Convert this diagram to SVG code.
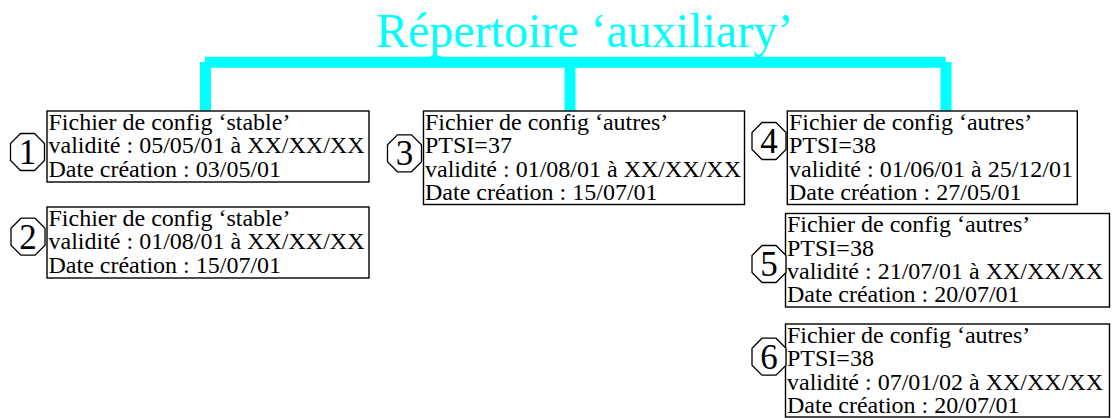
<svg xmlns="http://www.w3.org/2000/svg" width="1112" height="418" viewBox="0 0 1112 418">
  <style>
    .title { font-family: "Liberation Serif", "Times New Roman", serif; font-size: 48px; fill: #00FFFF; }
    .txt { font-family: "Liberation Serif", "Times New Roman", serif; font-size: 24px; fill: #000000; }
    .num { font-family: "Liberation Serif", "Times New Roman", serif; font-size: 35px; fill: #000000; text-anchor: middle; }
    .box { fill: #FFFFFF; stroke: #000000; stroke-width: 1.4; }
    .oct { fill: #FFFFFF; stroke: #000000; stroke-width: 1.3; }
    .bar { stroke: #00FFFF; stroke-width: 11; fill: none; stroke-linecap: butt; }
  </style>
  <defs>
    <polygon id="octagon" class="oct" points="-7,-18.5 7,-18.5 17,-8.5 17,8.5 7,18.5 -7,18.5 -17,8.5 -17,-8.5"/>
  </defs>
  <rect x="0" y="0" width="1112" height="418" fill="#FFFFFF"/>

  <text id="title" class="title" x="376" y="46.5">Répertoire ‘auxiliary’</text>

  <g id="connectors">
    <line class="bar" x1="205" y1="62.2" x2="945.5" y2="62.2"/>
    <line class="bar" x1="205.5" y1="62" x2="205.5" y2="111"/>
    <line class="bar" x1="570" y1="62" x2="570" y2="111"/>
    <line class="bar" x1="946" y1="62" x2="946" y2="111"/>
  </g>

  <g id="node1">
    <rect class="box" x="47" y="111" width="322" height="71"/>
    <text class="txt" x="48.5" y="129.5"><tspan x="48.5" y="129.5">Fichier de config ‘stable’</tspan><tspan x="48.5" y="153.3">validité : 05/05/01 à XX/XX/XX</tspan><tspan x="48.5" y="176.5">Date création : 03/05/01</tspan></text>
    <use href="#octagon" x="27.5" y="152"/>
    <text class="num" x="27.5" y="164">1</text>
  </g>

  <g id="node2">
    <rect class="box" x="47" y="207" width="322" height="71"/>
    <text class="txt" x="48.5" y="225.5"><tspan x="48.5" y="225.5">Fichier de config ‘stable’</tspan><tspan x="48.5" y="249.3">validité : 01/08/01 à XX/XX/XX</tspan><tspan x="48.5" y="272.5">Date création : 15/07/01</tspan></text>
    <use href="#octagon" x="28" y="236.7"/>
    <text class="num" x="28" y="248.7">2</text>
  </g>

  <g id="node3">
    <rect class="box" x="423.5" y="111" width="321" height="93.5"/>
    <text class="txt" x="425" y="129.5"><tspan x="425" y="129.5">Fichier de config ‘autres’</tspan><tspan x="425" y="153.3">PTSI=37</tspan><tspan x="425" y="176.5">validité : 01/08/01 à XX/XX/XX</tspan><tspan x="425" y="199.5">Date création : 15/07/01</tspan></text>
    <use href="#octagon" x="404.5" y="153.3"/>
    <text class="num" x="404.5" y="165.3">3</text>
  </g>

  <g id="node4">
    <rect class="box" x="787.3" y="111" width="290" height="93.5"/>
    <text class="txt" x="789" y="129.5"><tspan x="789" y="129.5">Fichier de config ‘autres’</tspan><tspan x="789" y="153.3">PTSI=38</tspan><tspan x="789" y="176.5">validité : 01/06/01 à 25/12/01</tspan><tspan x="789" y="199.5">Date création : 27/05/01</tspan></text>
    <use href="#octagon" x="769" y="141"/>
    <text class="num" x="769" y="153">4</text>
  </g>

  <g id="node5">
    <rect class="box" x="785.5" y="213.5" width="324" height="93.5"/>
    <text class="txt" x="787" y="232"><tspan x="787" y="232">Fichier de config ‘autres’</tspan><tspan x="787" y="255.8">PTSI=38</tspan><tspan x="787" y="279">validité : 21/07/01 à XX/XX/XX</tspan><tspan x="787" y="302">Date création : 20/07/01</tspan></text>
    <use href="#octagon" x="769" y="264"/>
    <text class="num" x="769" y="276">5</text>
  </g>

  <g id="node6">
    <rect class="box" x="785.5" y="324" width="324" height="93"/>
    <text class="txt" x="787" y="342.5"><tspan x="787" y="342.5">Fichier de config ‘autres’</tspan><tspan x="787" y="366.3">PTSI=38</tspan><tspan x="787" y="389.5">validité : 07/01/02 à XX/XX/XX</tspan><tspan x="787" y="412.5">Date création : 20/07/01</tspan></text>
    <use href="#octagon" x="769" y="356.7"/>
    <text class="num" x="769" y="368.7">6</text>
  </g>
</svg>
